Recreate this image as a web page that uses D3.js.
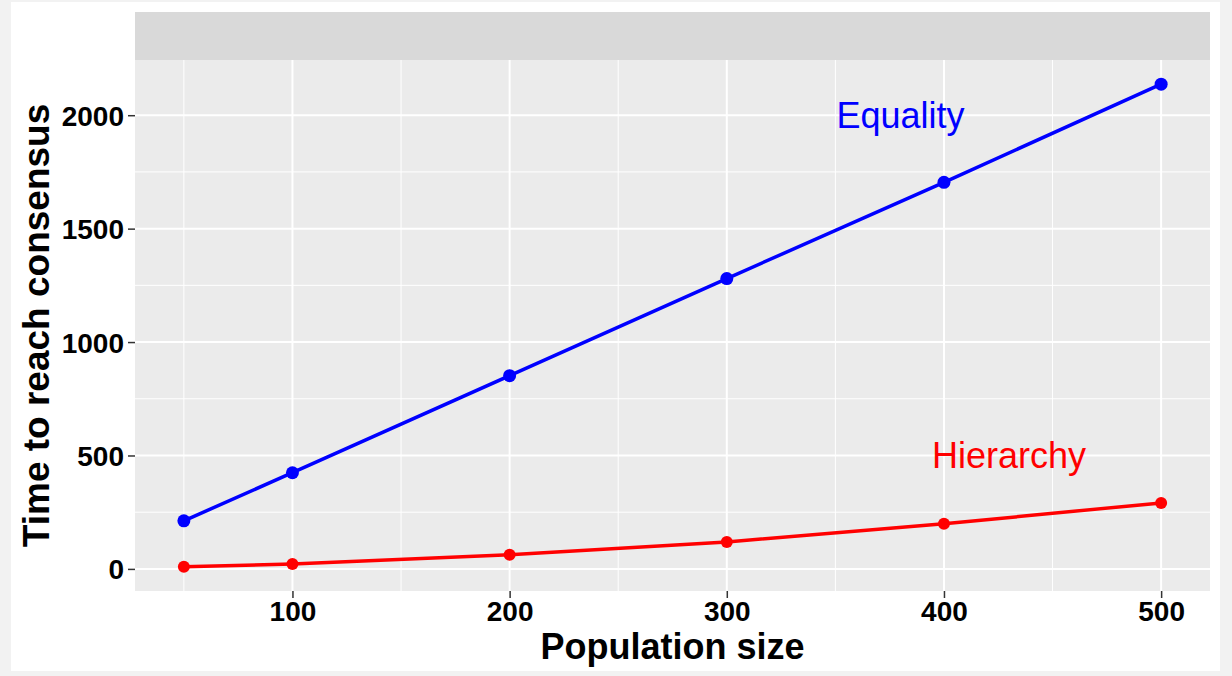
<!DOCTYPE html>
<html>
<head>
<meta charset="utf-8">
<script src="https://cdn.jsdelivr.net/npm/d3@7"></script>
<style>
  html, body { margin: 0; padding: 0; background: #f2f2f2; }
  svg { display: block; }
  text { font-family: "Liberation Sans", Arial, Helvetica, sans-serif; }
</style>
</head>
<body>
<svg id="chart" width="1232" height="676"></svg>
<script>
const populationSizes = [50, 100, 200, 300, 400, 500];
const equalityTimes = [212, 424, 852, 1280, 1704, 2137];
const hierarchyTimes = [9, 22, 62, 119, 199, 291];
const xTicks = [100, 200, 300, 400, 500];
const yTicks = [0, 500, 1000, 1500, 2000];

const seriesList = [
    { name: "Equality", values: equalityTimes, color: "#0000ff", label: [380, 2000], r: 6.5 },
    { name: "Hierarchy", values: hierarchyTimes, color: "#ff0000", label: [430, 500], r: 6 }
];

const svg = d3.select("#chart");

// white plot background
svg.append("rect")
    .attr("x", 11).attr("y", 2)
    .attr("width", 1209).attr("height", 669)
    .attr("fill", "#ffffff");

const panel = { left: 135, right: 1210, top: 60, bottom: 591 };

// ggplot style 5% expansion
const xMin = d3.min(populationSizes), xMax = d3.max(populationSizes);
const allY = equalityTimes.concat(hierarchyTimes);
const yMin = d3.min(allY), yMax = d3.max(allY);
const xPad = (xMax - xMin) * 0.05, yPad = (yMax - yMin) * 0.05;

const xScale = d3.scaleLinear()
    .domain([xMin - xPad, xMax + xPad])
    .range([panel.left, panel.right]);
const yScale = d3.scaleLinear()
    .domain([yMin - yPad, yMax + yPad])
    .range([panel.bottom, panel.top]);

// strip above panel
svg.append("rect")
    .attr("x", panel.left).attr("y", 12)
    .attr("width", panel.right - panel.left).attr("height", panel.top - 12)
    .attr("fill", "#d9d9d9");

svg.append("rect")
    .attr("x", panel.left).attr("y", panel.top)
    .attr("width", panel.right - panel.left).attr("height", panel.bottom - panel.top)
    .attr("fill", "#ebebeb");

const xMinor = [50, 150, 250, 350, 450];
const yMinor = [250, 750, 1250, 1750];

const grid = svg.append("g").attr("class", "grid");
grid.selectAll(".xminor").data(xMinor).enter().append("line")
    .attr("x1", d => xScale(d)).attr("x2", d => xScale(d))
    .attr("y1", panel.top).attr("y2", panel.bottom)
    .attr("stroke", "#fff").attr("stroke-width", 1);
grid.selectAll(".yminor").data(yMinor).enter().append("line")
    .attr("y1", d => yScale(d)).attr("y2", d => yScale(d))
    .attr("x1", panel.left).attr("x2", panel.right)
    .attr("stroke", "#fff").attr("stroke-width", 1);
grid.selectAll(".xmajor").data(xTicks).enter().append("line")
    .attr("x1", d => xScale(d)).attr("x2", d => xScale(d))
    .attr("y1", panel.top).attr("y2", panel.bottom)
    .attr("stroke", "#fff").attr("stroke-width", 2);
grid.selectAll(".ymajor").data(yTicks).enter().append("line")
    .attr("y1", d => yScale(d)).attr("y2", d => yScale(d))
    .attr("x1", panel.left).attr("x2", panel.right)
    .attr("stroke", "#fff").attr("stroke-width", 2);

// axes
const xAxis = svg.append("g")
    .attr("transform", `translate(0,${panel.bottom})`)
    .call(d3.axisBottom(xScale).tickValues(xTicks).tickFormat(d3.format("d")).tickSize(7).tickPadding(3));
const yAxis = svg.append("g")
    .attr("transform", `translate(${panel.left},0)`)
    .call(d3.axisLeft(yScale).tickValues(yTicks).tickFormat(d3.format("d")).tickSize(7).tickPadding(4));

[xAxis, yAxis].forEach(ax => {
    ax.select(".domain").remove();
    ax.selectAll(".tick line").attr("stroke", "#333333").attr("stroke-width", 1.5);
    ax.selectAll(".tick text")
        .attr("fill", "#000")
        .style("font-size", "28px")
        .style("font-weight", "bold")
        .style("font-family", "'Liberation Sans', Arial, sans-serif");
});
yAxis.selectAll(".tick text").attr("dy", "0.36em");

// lines and points
const line = d3.line()
    .x((d, i) => xScale(populationSizes[i]))
    .y(d => yScale(d));

seriesList.forEach(s => {
    svg.append("path")
        .datum(s.values)
        .attr("fill", "none")
        .attr("stroke", s.color)
        .attr("stroke-width", 3.5)
        .attr("d", line);

    svg.selectAll(null)
        .data(s.values)
        .enter().append("circle")
        .attr("cx", (d, i) => xScale(populationSizes[i]))
        .attr("cy", d => yScale(d))
        .attr("r", s.r)
        .attr("fill", s.color);

    svg.append("text")
        .attr("x", xScale(s.label[0]))
        .attr("y", yScale(s.label[1]))
        .attr("text-anchor", "middle")
        .attr("dy", "0.36em")
        .attr("fill", s.color)
        .style("font-size", "36px")
        .text(s.name);
});

// axis titles
svg.append("text")
    .attr("x", (panel.left + panel.right) / 2)
    .attr("y", 659)
    .attr("text-anchor", "middle")
    .style("font-size", "36px")
    .style("font-weight", "bold")
    .text("Population size");

svg.append("text")
    .attr("transform", `translate(49,${(panel.top + panel.bottom) / 2}) rotate(-90)`)
    .attr("text-anchor", "middle")
    .style("font-size", "37px")
    .style("font-weight", "bold")
    .text("Time to reach consensus");
</script>
</body>
</html>
